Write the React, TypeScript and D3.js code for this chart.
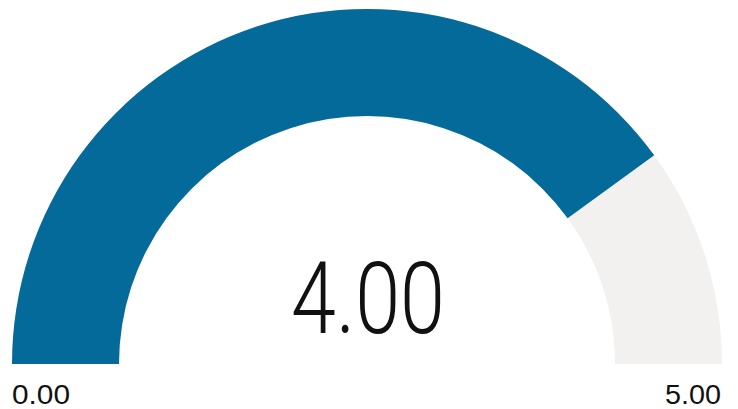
import React from "react";
import * as d3 from "d3";

const minValue = 0;
const maxValue = 5;
const gaugeValue = 4.0;
const minLabel = "0.00";
const maxLabel = "5.00";
const valueLabel = "4.00";

const W = 738;
const H = 409;

export default function App() {
  const cx = 367;
  const cy = 364;
  const outerR = 355;
  const innerR = 248;
  const angle = d3
    .scaleLinear()
    .domain([minValue, maxValue])
    .range([-Math.PI / 2, Math.PI / 2]);
  const arc = d3.arc<any>().innerRadius(innerR).outerRadius(outerR);
  const bg = arc({ startAngle: angle(minValue), endAngle: angle(maxValue) } as any) || "";
  const fg = arc({ startAngle: angle(minValue), endAngle: angle(gaugeValue) } as any) || "";
  return (
    <svg
      width={W}
      height={H}
      style={{ position: "absolute", left: 0, top: 0, background: "#fff" }}
    >
      <g transform={`translate(${cx},${cy})`}>
        <path d={bg} fill="#F2F1F0" />
        <path d={fg} fill="#046A99" />
        <text
          x={1}
          y={-31}
          textAnchor="middle"
          fontFamily="Roboto"
          fontWeight={300}
          fontSize={101}
          textLength={154}
          lengthAdjust="spacingAndGlyphs"
          fill="#111"
        >
          {valueLabel}
        </text>
      </g>
      <text
        x={12}
        y={404}
        fontFamily="Liberation Sans, Arial, sans-serif"
        fontSize={27}
        textLength={58}
        lengthAdjust="spacingAndGlyphs"
        fill="#111"
      >
        {minLabel}
      </text>
      <text
        x={721}
        y={404}
        textAnchor="end"
        fontFamily="Liberation Sans, Arial, sans-serif"
        fontSize={27}
        textLength={56}
        lengthAdjust="spacingAndGlyphs"
        fill="#111"
      >
        {maxLabel}
      </text>
    </svg>
  );
}
